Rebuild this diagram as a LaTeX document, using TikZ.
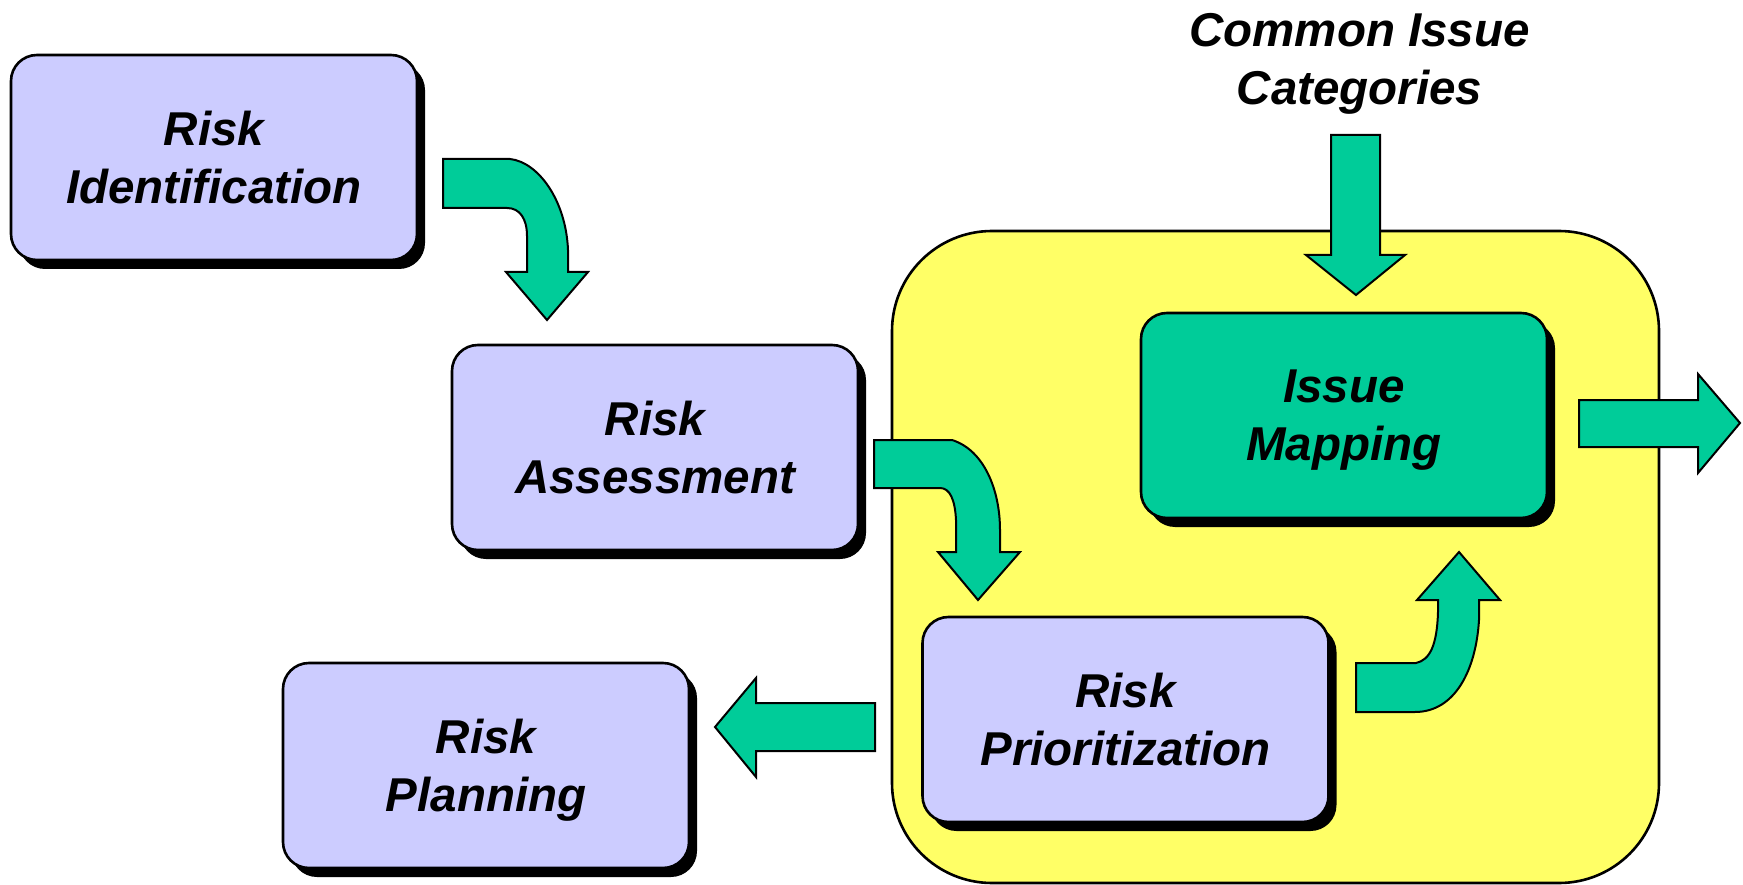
\documentclass[tikz,border=0pt]{standalone}
\usepackage{fontspec}
\setmainfont{Liberation Sans}
\usetikzlibrary{shadows}
\definecolor{lav}{HTML}{CCCCFF}
\definecolor{grn}{HTML}{00CC99}
\definecolor{yel}{HTML}{FFFF66}
\tikzset{
  boxstyle/.style={draw=black, line width=2.6pt, rounded corners=26pt,
    minimum width=406pt, minimum height=205pt, align=center, inner sep=0pt,
    text depth=0pt,
    font=\fontsize{47.5}{58}\selectfont\bfseries\itshape,
    drop shadow={shadow xshift=8pt, shadow yshift=-9pt, fill=black, opacity=1}},
  lavbox/.style={boxstyle, fill=lav},
  grnbox/.style={boxstyle, fill=grn},
  blockarrow/.style={draw=black, line width=2pt, fill=grn, line join=miter},
  yellowarea/.style={draw=black, line width=2.6pt, fill=yel, rounded corners=100pt},
  labeltext/.style={align=center, inner sep=0pt, text depth=0pt,
    font=\fontsize{47.5}{58}\selectfont\bfseries\itshape}
}
\begin{document}
\begin{tikzpicture}[x=1pt, y=-1pt]
\useasboundingbox (0,0) rectangle (1743,885);
% yellow area
\draw[yellowarea] (892,231) rectangle (1659,883);
% boxes
\node[lavbox] (ri) at (214,157.5) {Risk\\Identification};
\node[lavbox] (ra) at (655,447.5) {Risk\\Assessment};
\node[grnbox] (im) at (1344,415.5) {Issue\\Mapping};
\node[lavbox] (rp) at (1125.5,719.5) {Risk\\Prioritization};
\node[lavbox] (rpl) at (486,765.5) {Risk\\Planning};
\node[labeltext] (cic) at (1359.5,59) {Common Issue\\Categories};
% bent arrow: identification -> assessment
\draw[blockarrow] (443,159) -- (510,159)
  .. controls (538,162) and (566,200) .. (568,250) -- (568,272)
  -- (588,272) -- (547,320) -- (506,272) -- (527,272) -- (527,236)
  .. controls (527,219) and (520,208) .. (507,208) -- (443,208) -- cycle;
% bent arrow: assessment -> prioritization
\draw[blockarrow] (874,440) -- (952,440)
  .. controls (984,450) and (1000,490) .. (1000,530) -- (1000,552)
  -- (1020,552) -- (978,600) -- (938,552) -- (956,552) -- (956,520)
  .. controls (955,500) and (950,488) .. (940,488) -- (874,488) -- cycle;
% top arrow: categories -> issue mapping
\draw[blockarrow] (1331,135) -- (1380,135) -- (1380,255) -- (1405,255)
  -- (1356,295) -- (1306,255) -- (1331,255) -- cycle;
% right arrow: issue mapping -> out
\draw[blockarrow] (1579,400) -- (1698,400) -- (1698,374) -- (1740,423)
  -- (1698,473) -- (1698,447) -- (1579,447) -- cycle;
% left arrow: prioritization -> planning
\draw[blockarrow] (875,703) -- (756,703) -- (756,678) -- (715,727)
  -- (756,777) -- (756,751) -- (875,751) -- cycle;
% up arrow: prioritization -> issue mapping
\draw[blockarrow] (1356,663) -- (1416,663)
  .. controls (1430,660) and (1437,645) .. (1438,612) -- (1438,600)
  -- (1417,600) -- (1459,552) -- (1500,600) -- (1479,600) -- (1479,620)
  .. controls (1476,670) and (1455,712) .. (1415,712) -- (1356,712) -- cycle;
\end{tikzpicture}
\end{document}
